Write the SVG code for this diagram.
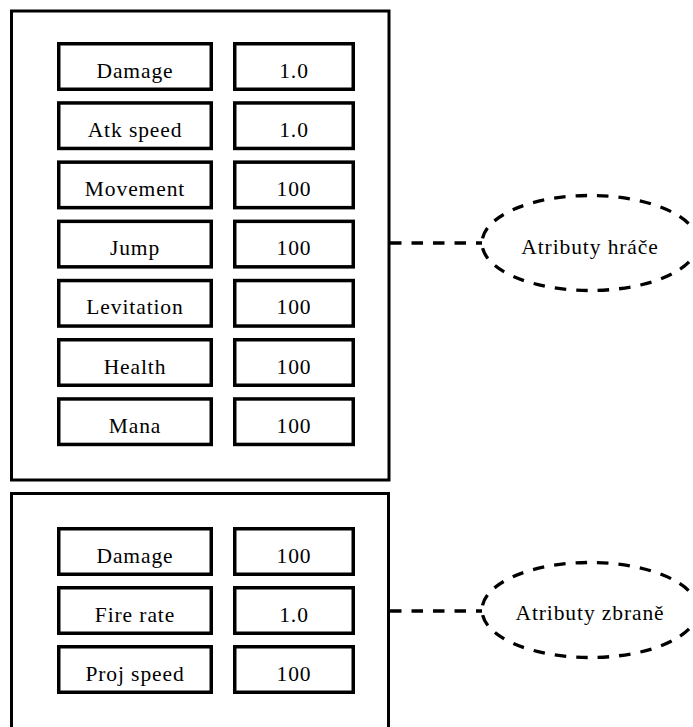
<svg xmlns="http://www.w3.org/2000/svg" width="693" height="727" viewBox="0 0 693 727">
<style>
.frame{fill:none;stroke:#000;stroke-width:3}
.cell{fill:#fff;stroke:#000;stroke-width:3.5}
.lbl{font-family:"Liberation Serif","Times New Roman",serif;font-size:21.5px;fill:#000;text-anchor:middle;letter-spacing:0.9px}
.dash{fill:none;stroke:#000;stroke-width:3.3;stroke-dasharray:11.5 10}
</style>
<rect width="693" height="727" fill="#fff"/>
<g id="player-frame"><rect class="frame" x="11.5" y="11" width="377.5" height="469"/></g>
<g id="weapon-frame"><rect class="frame" x="11.5" y="493.5" width="377" height="260"/></g>
<g id="connectors">
<line class="dash" x1="390" y1="243" x2="482" y2="243"/>
<line class="dash" x1="390" y1="611" x2="482" y2="611"/>
</g>
<g id="p-damage"><rect class="cell" x="58.75" y="43.75" width="152.5" height="45.5"/><text class="lbl" x="135" y="77.5">Damage</text></g>
<g id="p-damage-v"><rect class="cell" x="234.75" y="43.75" width="118.5" height="45.5"/><text class="lbl" x="294" y="77.5">1.0</text></g>
<g id="p-atk"><rect class="cell" x="58.75" y="102.95" width="152.5" height="45.5"/><text class="lbl" x="135" y="136.7">Atk speed</text></g>
<g id="p-atk-v"><rect class="cell" x="234.75" y="102.95" width="118.5" height="45.5"/><text class="lbl" x="294" y="136.7">1.0</text></g>
<g id="p-move"><rect class="cell" x="58.75" y="162.15" width="152.5" height="45.5"/><text class="lbl" x="135" y="195.9">Movement</text></g>
<g id="p-move-v"><rect class="cell" x="234.75" y="162.15" width="118.5" height="45.5"/><text class="lbl" x="294" y="195.9">100</text></g>
<g id="p-jump"><rect class="cell" x="58.75" y="221.35" width="152.5" height="45.5"/><text class="lbl" x="135" y="255.1">Jump</text></g>
<g id="p-jump-v"><rect class="cell" x="234.75" y="221.35" width="118.5" height="45.5"/><text class="lbl" x="294" y="255.1">100</text></g>
<g id="p-lev"><rect class="cell" x="58.75" y="280.55" width="152.5" height="45.5"/><text class="lbl" x="135" y="314.3">Levitation</text></g>
<g id="p-lev-v"><rect class="cell" x="234.75" y="280.55" width="118.5" height="45.5"/><text class="lbl" x="294" y="314.3">100</text></g>
<g id="p-health"><rect class="cell" x="58.75" y="339.75" width="152.5" height="45.5"/><text class="lbl" x="135" y="373.5">Health</text></g>
<g id="p-health-v"><rect class="cell" x="234.75" y="339.75" width="118.5" height="45.5"/><text class="lbl" x="294" y="373.5">100</text></g>
<g id="p-mana"><rect class="cell" x="58.75" y="398.95" width="152.5" height="45.5"/><text class="lbl" x="135" y="432.7">Mana</text></g>
<g id="p-mana-v"><rect class="cell" x="234.75" y="398.95" width="118.5" height="45.5"/><text class="lbl" x="294" y="432.7">100</text></g>
<g id="w-damage"><rect class="cell" x="58.75" y="528.75" width="152.5" height="45.5"/><text class="lbl" x="135" y="562.5">Damage</text></g>
<g id="w-damage-v"><rect class="cell" x="234.75" y="528.75" width="118.5" height="45.5"/><text class="lbl" x="294" y="562.5">100</text></g>
<g id="w-fire"><rect class="cell" x="58.75" y="587.75" width="152.5" height="45.5"/><text class="lbl" x="135" y="621.5">Fire rate</text></g>
<g id="w-fire-v"><rect class="cell" x="234.75" y="587.75" width="118.5" height="45.5"/><text class="lbl" x="294" y="621.5">1.0</text></g>
<g id="w-proj"><rect class="cell" x="58.75" y="646.75" width="152.5" height="45.5"/><text class="lbl" x="135" y="680.5">Proj speed</text></g>
<g id="w-proj-v"><rect class="cell" x="234.75" y="646.75" width="118.5" height="45.5"/><text class="lbl" x="294" y="680.5">100</text></g>
<g id="player-attrs"><ellipse class="dash" cx="590" cy="243" rx="108" ry="47.5"/><text class="lbl" x="590" y="254">Atributy hráče</text></g>
<g id="weapon-attrs"><ellipse class="dash" cx="590" cy="610" rx="108" ry="47.5"/><text class="lbl" x="590" y="620">Atributy zbraně</text></g>
</svg>
